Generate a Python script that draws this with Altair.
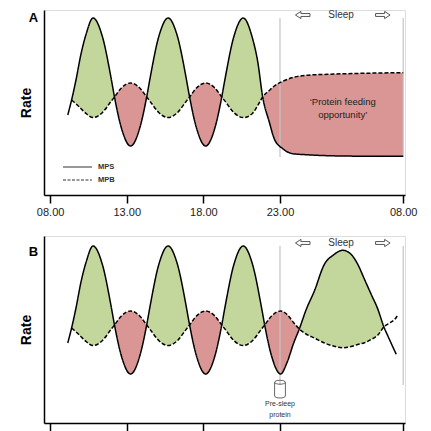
import altair as alt
import pandas as pd

# ---------------- data ----------------
tick_values = [8, 13, 18, 23, 32]
tick_labels = ["08.00", "13.00", "18.00", "23.00", "08.00"]

hours_a = [9.15, 9.4, 9.7, 10.0, 10.35, 10.8, 11.4, 12.0, 12.2, 12.65, 13.25,
           13.85, 14.3, 14.5, 15.1, 15.7, 16.3, 16.9, 17.1, 17.55, 18.15,
           18.75, 19.2, 19.4, 20.0, 20.6, 21.2, 21.55, 21.87, 22.3, 22.63,
           23.2, 23.93, 24.9, 26.5, 29.0, 32.0]
mps_a = [80, 95, 116, 140, 161, 177, 159, 115, 98, 67, 49,
         67, 98, 115, 159, 177, 159, 115, 98, 67, 49,
         67, 98, 115, 159, 177, 157, 133, 98, 73, 56,
         46.3, 41.3, 40.3, 39.3, 38.8, 38.7]
mpb_a = [None, 95, 91, 86.5, 81.5, 77.4, 82.3, 94.1, 98, 107, 112,
         107, 98, 94.1, 82.3, 77.4, 82.3, 94.1, 98, 107, 112,
         107, 98, 94.1, 82.3, 77.4, 81.5, 89.5, 98, 104.5, 109,
         113.7, 117.5, 119.7, 120.7, 121.7, 122.3]
fills_a = [(9.4, 12.2, "synthesis"), (12.2, 14.3, "breakdown"),
           (14.3, 17.1, "synthesis"), (17.1, 19.2, "breakdown"),
           (19.2, 21.87, "synthesis"), (21.87, 32.0, "breakdown")]

hours_b = [9.15, 9.4, 9.7, 10.0, 10.35, 10.8, 11.4, 12.0, 12.2, 12.65, 13.25,
           13.85, 14.3, 14.5, 15.1, 15.7, 16.3, 16.9, 17.1, 17.55, 18.15,
           18.75, 19.2, 19.4, 20.0, 20.6, 21.2, 21.8, 22.0, 22.45, 23.05,
           23.5, 24.0, 24.41, 24.9, 25.51, 26.24, 26.9, 27.59, 28.19, 28.68,
           29.17, 29.66, 30.15, 30.59, 30.88, 31.49, 31.61]
mps_b = [80, 95, 116, 140, 161, 177, 159, 115, 98, 67, 49,
         67, 98, 115, 159, 177, 159, 115, 98, 67, 49,
         67, 98, 115, 159, 177, 159, 115, 98, 67, 49,
         60, 80, 94, 113, 132, 158.7, 168, 172.7, 168.7, 158.7,
         143.7, 128.7, 113.7, 96, 87, 68.7, None]
mpb_b = [None, 95, 91, 86.5, 81.5, 77.4, 82.3, 94.1, 98, 107, 112,
         107, 98, 94.1, 82.3, 77.4, 82.3, 94.1, 98, 107, 112,
         107, 98, 94.1, 82.3, 77.4, 82.3, 94.1, 98, 107, 112,
         108.7, 100.3, 94, 89, 85, 80, 77, 75.3, 76.5, 78.5,
         80.3, 83.5, 88, 96, 99, 105.5, 108]
fills_b = [(9.4, 12.2, "synthesis"), (12.2, 14.3, "breakdown"),
           (14.3, 17.1, "synthesis"), (17.1, 19.2, "breakdown"),
           (19.2, 22.0, "synthesis"), (22.0, 24.41, "breakdown"),
           (24.41, 30.59, "synthesis")]

FONT = "Liberation Sans"
GREEN = "#C3D69B"
RED = "#D99694"

label_expr = " : ".join(
    f"datum.value == {v} ? '{l}'" for v, l in zip(tick_values, tick_labels)
) + " : ''"

ARROW_L = ("M-1,0 L-0.25,-0.5 L-0.25,-0.2 L1,-0.2 L1,0.2 L-0.25,0.2 "
           "L-0.25,0.5 Z")
ARROW_R = ("M1,0 L0.25,-0.5 L0.25,-0.2 L-1,-0.2 L-1,0.2 L0.25,0.2 "
           "L0.25,0.5 Z")
CYL = ("M-0.6,-0.75 A0.6,0.22 0 1,1 0.6,-0.75 A0.6,0.22 0 1,1 -0.6,-0.75 Z "
       "M-0.6,-0.75 L-0.6,0.78 A0.6,0.22 0 0,0 0.6,0.78 L0.6,-0.75")


def build_frames(hours, mps, mpb, fills):
    wide = pd.DataFrame({"hour": hours, "MPS": mps, "MPB": mpb})
    long = wide.melt("hour", var_name="series", value_name="rate").dropna()
    pieces = []
    for i, (h0, h1, kind) in enumerate(fills):
        seg = wide[(wide.hour >= h0 - 1e-9) & (wide.hour <= h1 + 1e-9)].dropna().copy()
        seg["seg"] = i
        seg["kind"] = kind
        pieces.append(seg)
    return long, pd.concat(pieces, ignore_index=True)


def panel(hours, mps, mpb, fills, height, letter, letter_y, show_labels, extra=None):
    long, area = build_frames(hours, mps, mpb, fills)
    x = alt.X("hour:Q",
              scale=alt.Scale(domain=[7.6, 23, 32.13], range=[0, 236, 361],
                              nice=False, zero=False),
              axis=alt.Axis(values=tick_values, labelExpr=label_expr, title=None,
                            labels=show_labels,
                            grid=False, tickSize=8, tickWidth=1.5, tickColor="black",
                            domainColor="black", domainWidth=1.5,
                            labelFont=FONT, labelFontSize=11, labelColor="#222",
                            labelPadding=3))
    yscale = alt.Scale(domain=[0, height], nice=False, zero=False)
    yaxis = alt.Axis(title="Rate", labels=False, ticks=False, grid=False,
                     domainColor="black", domainWidth=1.5,
                     titleFont=FONT, titleFontSize=14, titleFontWeight="bold",
                     titleColor="black", titlePadding=11)

    fill = alt.Chart(area).mark_area(interpolate="monotone", opacity=1).encode(
        x=x,
        y=alt.Y("MPS:Q", scale=yscale, axis=yaxis),
        y2="MPB:Q",
        color=alt.Color("kind:N", scale=alt.Scale(domain=["synthesis", "breakdown"],
                                                  range=[GREEN, RED]), legend=None),
        detail="seg:N",
    )
    lines = alt.Chart(long).mark_line(interpolate="monotone", color="black",
                                      strokeWidth=1.5).encode(
        x=alt.X("hour:Q"),
        y=alt.Y("rate:Q"),
        strokeDash=alt.StrokeDash("series:N",
                                  scale=alt.Scale(domain=["MPS", "MPB"],
                                                  range=[[1, 0], [4, 2]]),
                                  legend=None),
    )
    base = alt.Chart(pd.DataFrame({"k": [0]}))
    sleep_lines = [
        base.mark_rule(color="#c4c4c4", strokeWidth=1.2).encode(
            x=alt.datum(h), y=alt.datum(177), y2=alt.datum(38))
        for h in (23, 32)
    ]
    sleep_txt = base.mark_text(font=FONT, fontSize=10, color="#333").encode(
        x=alt.datum(27.46), y=alt.datum(180), text=alt.value("Sleep"))
    arr_l = base.mark_point(shape=ARROW_L, size=210, filled=True, fill="white",
                            stroke="#555", strokeWidth=1, opacity=1).encode(
        x=alt.datum(24.66), y=alt.datum(180))
    arr_r = base.mark_point(shape=ARROW_R, size=210, filled=True, fill="white",
                            stroke="#555", strokeWidth=1, opacity=1).encode(
        x=alt.datum(30.51), y=alt.datum(180))
    let = base.mark_text(font=FONT, fontSize=13, fontWeight="bold", color="black").encode(
        x=alt.value(-10.5), y=alt.value(letter_y), text=alt.value(letter))

    layers = [fill] + sleep_lines + [lines, sleep_txt, arr_l, arr_r, let]
    if extra:
        layers += extra(base)
    return alt.layer(*layers).properties(width=361, height=height)


def extra_a(base):
    out = []
    out.append(base.mark_text(font=FONT, fontSize=9.5, color="#222").encode(
        x=alt.datum(27.58), y=alt.datum(93), text=alt.value("\u2018Protein feeding")))
    out.append(base.mark_text(font=FONT, fontSize=9.5, color="#222").encode(
        x=alt.datum(27.58), y=alt.datum(80), text=alt.value("opportunity\u2019")))
    out.append(base.mark_rule(color="#333", strokeWidth=1).encode(
        x=alt.value(19), x2=alt.value(48), y=alt.value(157)))
    out.append(base.mark_rule(color="#333", strokeWidth=1, strokeDash=[3, 1.5]).encode(
        x=alt.value(19), x2=alt.value(48), y=alt.value(170)))
    out.append(base.mark_text(font=FONT, fontSize=7.5, fontWeight="bold", color="#333",
                              align="left").encode(
        x=alt.value(54), y=alt.value(157), text=alt.value("MPS")))
    out.append(base.mark_text(font=FONT, fontSize=7.5, fontWeight="bold", color="#333",
                              align="left").encode(
        x=alt.value(54), y=alt.value(170), text=alt.value("MPB")))
    return out


def extra_b(base):
    out = []
    out.append(base.mark_point(shape=CYL, size=324, filled=False, stroke="#666",
                               strokeWidth=1, opacity=1).encode(
        x=alt.datum(23), y=alt.datum(34)))
    out.append(base.mark_text(font=FONT, fontSize=7, color="#333").encode(
        x=alt.datum(23), y=alt.datum(19), text=alt.value("Pre-sleep")))
    out.append(base.mark_text(font=FONT, fontSize=7, color="#333").encode(
        x=alt.datum(23), y=alt.datum(8), text=alt.value("protein")))
    return out


pa = panel(hours_a, mps_a, mpb_a, fills_a, 185, "A", 8, True, extra_a)
pb = panel(hours_b, mps_b, mpb_b, fills_b, 187, "B", 16, False, extra_b)

chart = alt.vconcat(pa, pb, spacing=17).properties(
    padding={"left": 10, "top": 0, "right": 5, "bottom": 0}
).configure_view(stroke=None).configure(font=FONT)

chart.save("out.html", embed_options={"renderer": "svg", "actions": False})
